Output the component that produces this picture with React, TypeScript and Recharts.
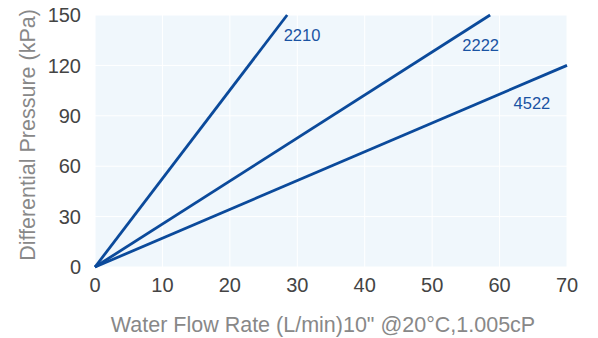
import React from 'react';
import {
    LineChart,
    Line,
    XAxis,
    YAxis,
    CartesianGrid,
    ReferenceDot,
} from 'recharts';

// flow (L/min) vs differential pressure (kPa) per filter model
const series2210 = [
    { flow: 0, kpa: 0 },
    { flow: 28.5, kpa: 150 },
];
const series2222 = [
    { flow: 0, kpa: 0 },
    { flow: 58.6, kpa: 150 },
];
const series4522 = [
    { flow: 0, kpa: 0 },
    { flow: 70, kpa: 120 },
];

const xTicks = [0, 10, 20, 30, 40, 50, 60, 70];
const yTicks = [0, 30, 60, 90, 120, 150];

// where the model names sit (data coords)
const seriesLabels = [
    { name: '2210', flow: 30.7, kpa: 138 },
    { name: '2222', flow: 57.2, kpa: 132 },
    { name: '4522', flow: 64.8, kpa: 97.6 },
];

const lineColor = '#0b4a9b';
const font = '"Liberation Sans", Arial, sans-serif';

export default function App() {
    return (
        <div style={{ position: 'absolute', left: 0, top: 0, width: 598, height: 338, background: '#fff', fontFamily: font }}>
            <LineChart width={598} height={338} margin={{ top: 15, right: 31, bottom: 0, left: 0 }}>
                <CartesianGrid stroke="#ffffff" strokeWidth={1} fill="#f0f7fc" />
                <XAxis
                    type="number"
                    dataKey="flow"
                    domain={[0, 70]}
                    ticks={xTicks}
                    axisLine={false}
                    tickLine={false}
                    height={71}
                    tick={{ fill: '#444', fontSize: 20, fontFamily: font }}
                    dy={3}
                    label={{
                        value: 'Water Flow Rate (L/min)10" @20°C,1.005cP',
                        position: 'insideBottom',
                        offset: 6,
                        dx: -8,
                        fill: '#888',
                        fontSize: 21.5,
                        fontFamily: font,
                    }}
                />
                <YAxis
                    type="number"
                    dataKey="kpa"
                    domain={[0, 150]}
                    ticks={yTicks}
                    axisLine={false}
                    tickLine={false}
                    width={95}
                    tick={{ fill: '#444', fontSize: 20, fontFamily: font }}
                    dx={-6}
                    label={{
                        value: 'Differential Pressure (kPa)',
                        angle: -90,
                        position: 'insideLeft',
                        offset: 27,
                        dy: -6,
                        style: { textAnchor: 'middle' },
                        fill: '#888',
                        fontSize: 21.5,
                        fontFamily: font,
                    }}
                />
                <Line data={series2210} dataKey="kpa" stroke={lineColor} strokeWidth={2.8} dot={false} isAnimationActive={false} />
                <Line data={series2222} dataKey="kpa" stroke={lineColor} strokeWidth={2.8} dot={false} isAnimationActive={false} />
                <Line data={series4522} dataKey="kpa" stroke={lineColor} strokeWidth={2.8} dot={false} isAnimationActive={false} />
                {seriesLabels.map((l) => (
                    <ReferenceDot
                        key={l.name}
                        x={l.flow}
                        y={l.kpa}
                        r={0}
                        fill="none"
                        stroke="none"
                        label={{ value: l.name, position: 'center', fill: '#1a53a3', fontSize: 16.5, fontFamily: font }}
                    />
                ))}
            </LineChart>
        </div>
    );
}
